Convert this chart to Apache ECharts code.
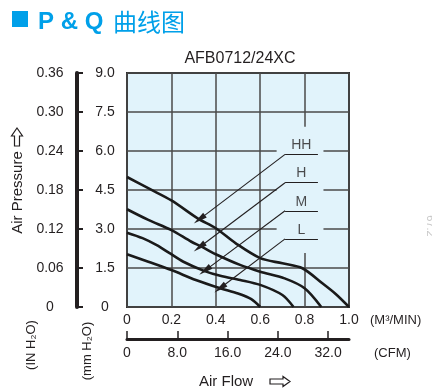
<!DOCTYPE html>
<html><head><meta charset="utf-8">
<script src="https://cdn.jsdelivr.net/npm/echarts@6/dist/echarts.min.js"></script>
<style>html,body{margin:0;padding:0;background:#fff}#c{width:432px;height:392px}</style>
</head><body><div id="c"></div>
<script>
// ---- data ----
const flowTicks = ['0', '0.2', '0.4', '0.6', '0.8', '1.0'];
const cfmValues = [0, 8, 16, 24, 32];
const cfmTicks = ['0', '8.0', '16.0', '24.0', '32.0'];
const mmTicks = ['0', '1.5', '3.0', '4.5', '6.0', '7.5', '9.0'];
const inTicks = ['0', '0.06', '0.12', '0.18', '0.24', '0.30', '0.36'];
const curveNames = ['HH', 'H', 'M', 'L'];
const curveHH = [[0, 5.0], [0.1, 4.55], [0.2, 4.1], [0.32, 3.4], [0.4, 3.03], [0.49, 2.45], [0.6, 1.88], [0.7, 1.68], [0.79, 1.49], [0.88, 0.91], [0.94, 0.5], [1.0, 0]];
const curveH = [[0, 3.76], [0.096, 3.35], [0.2, 2.96], [0.29, 2.51], [0.336, 2.32], [0.4, 2.03], [0.509, 1.62], [0.6, 1.36], [0.71, 1.10], [0.8, 0.72], [0.875, 0]];
const curveM = [[0, 2.86], [0.07, 2.65], [0.134, 2.38], [0.19, 2.08], [0.254, 1.74], [0.35, 1.38], [0.42, 1.2], [0.51, 1.04], [0.6, 0.85], [0.7, 0.46], [0.75, 0]];
const curveL = [[0, 2.03], [0.096, 1.74], [0.2, 1.42], [0.31, 1.04], [0.42, 0.72], [0.5, 0.52], [0.56, 0.3], [0.6, 0]];
const curves = [curveHH, curveH, curveM, curveL];
// annotation anchors (data coords)
const labelPos = [[0.785, 6.23], [0.785, 5.14], [0.785, 4.05], [0.785, 2.96]];
const leaderElbow = [[0.712, 5.87], [0.712, 4.78], [0.712, 3.70], [0.712, 2.62]];
const leaderRightX = 0.86;
const arrowTip = [[0.326, 3.37], [0.326, 2.30], [0.351, 1.40], [0.419, 0.72]];
const maskArea = [[0.674, 6.93], [0.885, 2.08]];

// ---- style ----
const BG = '#e1f3fb';
const INK = '#231f20';
const FONT = 'Liberation Sans';
const BLUE = '#00a0e9';

const chart = echarts.init(document.getElementById('c'), null, {renderer: 'canvas'});

const leaderData = [];
for (let i = 0; i < 4; i++) {
  leaderData.push([{coord: leaderElbow[i], symbol: 'none'}, {coord: arrowTip[i], symbol: 'triangle', symbolSize: [6, 14]}]);
  leaderData.push([{coord: leaderElbow[i], symbol: 'none'}, {coord: [leaderRightX, leaderElbow[i][1]], symbol: 'none'}]);
}

const option = {
  animation: false,
  backgroundColor: '#fff',
  grid: {left: 127, right: 83, top: 73, bottom: 85, show: true, backgroundColor: BG, borderColor: '#2b2b2b', borderWidth: 2},
  xAxis: [
    {type: 'value', min: 0, max: 1, interval: 0.2, position: 'bottom',
      axisLine: {show: false}, axisTick: {show: false},
      splitLine: {show: true, lineStyle: {color: '#4a4a4a', width: 1.5}},
      axisLabel: {margin: 6, color: INK, fontSize: 14, fontFamily: FONT, formatter: v => flowTicks[Math.round(v / 0.2)]}},
    {type: 'value', min: 0, max: 35.3147, position: 'bottom', offset: 32,
      axisLine: {show: true, onZero: false, lineStyle: {color: INK, width: 3}},
      axisTick: {show: true, inside: true, length: 8, customValues: cfmValues, lineStyle: {color: INK, width: 1.5}},
      splitLine: {show: false},
      axisLabel: {customValues: cfmValues, margin: 7, color: INK, fontSize: 14, fontFamily: FONT, formatter: v => cfmTicks[cfmValues.indexOf(v)]}}
  ],
  yAxis: [
    {type: 'value', min: 0, max: 9, interval: 1.5, position: 'left', offset: 50,
      axisLine: {show: true, onZero: false, lineStyle: {color: INK, width: 4}},
      axisTick: {show: true, inside: true, length: 6, lineStyle: {color: INK, width: 2}},
      splitLine: {show: true, lineStyle: {color: '#4a4a4a', width: 1.5}},
      axisLabel: {inside: true, margin: 28, align: 'center', color: INK, fontSize: 14, fontFamily: FONT, formatter: v => mmTicks[Math.round(v / 1.5)]}},
    {type: 'value', min: 0, max: 0.36, interval: 0.06, position: 'left', offset: 50,
      axisLine: {show: false, onZero: false}, axisTick: {show: false}, splitLine: {show: false},
      axisLabel: {margin: 27, align: 'center', color: INK, fontSize: 14, fontFamily: FONT, formatter: v => inTicks[Math.round(v / 0.06)]}}
  ],
  series: [
    ...curves.map((d, i) => ({
      name: curveNames[i], type: 'line', xAxisIndex: 0, yAxisIndex: 0, data: d,
      showSymbol: false, smooth: 0.3, z: 4,
      lineStyle: {color: '#1a1a1a', width: 2.6}
    })),
    {type: 'line', xAxisIndex: 0, yAxisIndex: 0, data: [], z: 3,
      markArea: {silent: true, itemStyle: {color: BG}, data: [[{coord: maskArea[0]}, {coord: maskArea[1]}]]}},
    {type: 'line', xAxisIndex: 0, yAxisIndex: 0, data: [], z: 5,
      markLine: {silent: true, animation: false, symbol: ['none', 'none'], label: {show: false},
        lineStyle: {color: INK, width: 1.1, type: 'solid'}, emphasis: {disabled: true}, data: leaderData}},
    {type: 'scatter', xAxisIndex: 0, yAxisIndex: 0, z: 6, symbolSize: 0,
      data: labelPos.map((p, i) => ({value: p, name: curveNames[i]})),
      label: {show: true, position: 'inside', formatter: p => p.name, color: INK, fontSize: 14, fontFamily: FONT}}
  ],
  graphic: [
    {type: 'rect', shape: {x: 12, y: 11, width: 16, height: 16}, style: {fill: BLUE}},
    {type: 'text', x: 38, y: 22, style: {text: 'P & Q', font: 'bold 24px "Liberation Sans"', fill: BLUE, align: 'left', verticalAlign: 'middle'}},
    {type: 'text', x: 113, y: 22, style: {text: '曲线图', font: '24px "Noto Sans CJK SC"', fill: BLUE, align: 'left', verticalAlign: 'middle'}},
    {type: 'text', x: 240, y: 59, style: {text: 'AFB0712/24XC', font: '16px "Liberation Sans"', fill: INK, align: 'center', verticalAlign: 'middle'}},
    {type: 'text', x: 18, y: 192.5, rotation: Math.PI / 2, style: {text: 'Air Pressure', font: '15px "Liberation Sans"', fill: INK, align: 'center', verticalAlign: 'middle'}},
    {type: 'polygon', shape: {points: [[17, 128], [22.5, 136], [19.5, 136], [19.5, 146], [14.5, 146], [14.5, 136], [11.5, 136]]}, style: {fill: 'none', stroke: INK, lineWidth: 1.2}},
    {type: 'text', x: 31, y: 345, rotation: Math.PI / 2, style: {text: '(IN H₂O)', font: '13px "Liberation Sans"', fill: INK, align: 'center', verticalAlign: 'middle'}},
    {type: 'text', x: 87, y: 351, rotation: Math.PI / 2, style: {text: '(mm H₂O)', font: '13px "Liberation Sans"', fill: INK, align: 'center', verticalAlign: 'middle'}},
    {type: 'text', x: 370, y: 320, style: {text: '(M³/MIN)', font: '13px "Liberation Sans"', fill: INK, align: 'left', verticalAlign: 'middle'}},
    {type: 'text', x: 374, y: 353, style: {text: '(CFM)', font: '13px "Liberation Sans"', fill: INK, align: 'left', verticalAlign: 'middle'}},
    {type: 'text', x: 199, y: 382, style: {text: 'Air Flow', font: '15px "Liberation Sans"', fill: INK, align: 'left', verticalAlign: 'middle'}},
    {type: 'polygon', shape: {points: [[290, 381.5], [283, 376.5], [283, 379], [270, 379], [270, 384], [283, 384], [283, 386.5]]}, style: {fill: 'none', stroke: INK, lineWidth: 1.2}},
    {type: 'text', x: 430, y: 226, rotation: -Math.PI / 2, style: {text: '67.2', font: '11px "Liberation Sans"', fill: '#c8c8c8', align: 'center', verticalAlign: 'middle'}}
  ]
};
chart.setOption(option);
</script>
</body></html>
